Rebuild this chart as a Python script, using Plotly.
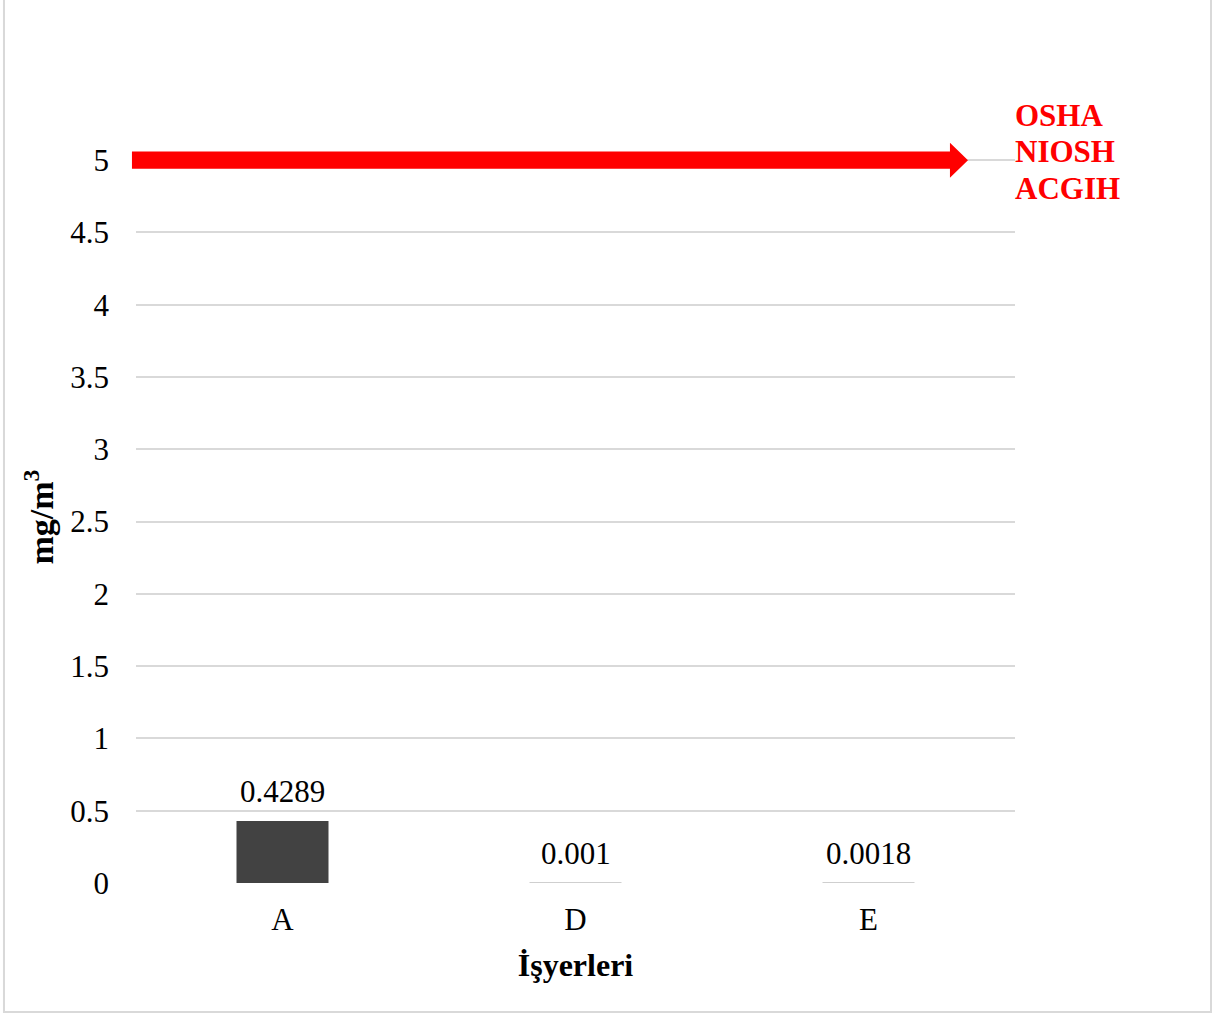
import plotly.graph_objects as go

# Workplace measurements (mg/m³)
workplaces = ["A", "D", "E"]
concentrations = [0.4289, 0.001, 0.0018]
value_labels = ["0.4289", "0.001", "0.0018"]

# Exposure limit shared by OSHA / NIOSH / ACGIH
limit_value = 5
limit_agencies = ["OSHA", "NIOSH", "ACGIH"]

y_ticks = [0, 0.5, 1, 1.5, 2, 2.5, 3, 3.5, 4, 4.5, 5]
y_tick_text = ["0", "0.5", "1", "1.5", "2", "2.5", "3", "3.5", "4", "4.5", "5"]

SERIF = "Liberation Serif, Times New Roman, serif"

fig = go.Figure()

# Slight transparency keeps sub-pixel bars at their true (invisible) height
fig.add_trace(go.Bar(
    x=workplaces,
    y=concentrations,
    marker=dict(color="rgba(65,65,65,0.995)", line=dict(width=0)),
    width=0.314,
    showlegend=False,
    hoverinfo="x+y",
))

# Value labels above each bar
for cat, val, lab in zip(workplaces, concentrations, value_labels):
    fig.add_annotation(
        x=cat, y=val, xref="x", yref="y", text=lab, showarrow=False,
        xanchor="center", yanchor="bottom", yshift=10,
        font=dict(family=SERIF, size=31, color="#000000"),
    )

# Limit arrow drawn at the limit value
shaft = 0.059
head = 0.121
x_start, x_head, x_tip = -0.0046, 0.926, 0.9465
arrow_path = (
    f"M {x_start},{limit_value - shaft} "
    f"L {x_head},{limit_value - shaft} "
    f"L {x_head},{limit_value - head} "
    f"L {x_tip},{limit_value} "
    f"L {x_head},{limit_value + head} "
    f"L {x_head},{limit_value + shaft} "
    f"L {x_start},{limit_value + shaft} Z"
)
fig.add_shape(type="path", path=arrow_path, xref="paper", yref="y",
              fillcolor="#ff0000", line=dict(width=0), layer="above")

# Agency names stacked beside the arrow tip
for name, shift in zip(limit_agencies, [45, 9, -28]):
    fig.add_annotation(
        x=1.0, y=limit_value, xref="paper", yref="y", yshift=shift, xshift=-2,
        xanchor="left", yanchor="middle", showarrow=False, text=name,
        font=dict(family=SERIF, size=31, color="#ff0000", weight="bold"),
    )

# Vertical axis title
fig.add_annotation(
    x=-0.11, y=0.482, xref="paper", yref="paper", textangle=-90,
    xanchor="center", yanchor="middle", showarrow=False,
    text="<b>mg/m<sup>3</sup></b>",
    font=dict(family=SERIF, size=34, color="#000000"),
)

# Chart frame
fig.add_shape(type="rect", xref="paper", yref="paper",
              x0=-0.1502, x1=1.2230, y0=-0.170, y1=1.2,
              line=dict(color="#d9d9d9", width=2), fillcolor="rgba(0,0,0,0)",
              layer="below")

fig.update_layout(
    width=1219, height=1016,
    margin=dict(l=136, r=204, t=124, b=133),
    paper_bgcolor="white", plot_bgcolor="white",
    bargap=0.686,
    font=dict(family=SERIF, size=31, color="#000000"),
    xaxis=dict(
        showgrid=False, zeroline=False, showline=False,
        tickfont=dict(family=SERIF, size=31),
        ticklabelstandoff=15,
        title=dict(text="<b>İşyerleri</b>", font=dict(family=SERIF, size=32), standoff=17),
    ),
    yaxis=dict(
        range=[0, 5.25],
        tickvals=y_ticks, ticktext=y_tick_text,
        showgrid=True, gridcolor="#d9d9d9", gridwidth=1.5,
        zeroline=False, showline=False,
        tickfont=dict(family=SERIF, size=31),
        ticklabelstandoff=26,
    ),
)

fig.write_html("out.html")
